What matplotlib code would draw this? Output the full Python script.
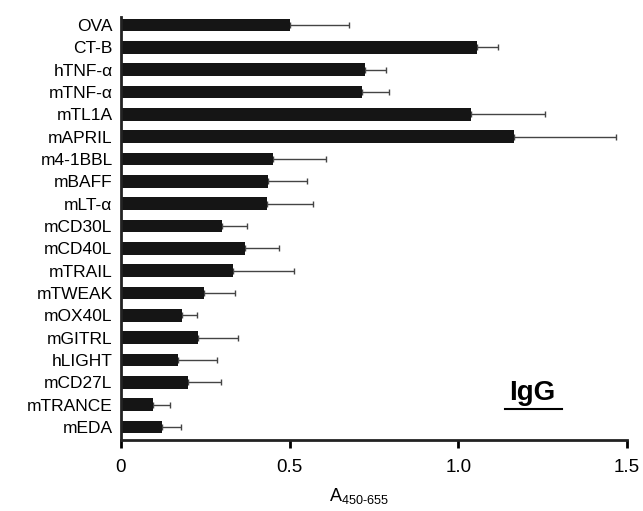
import matplotlib
matplotlib.use("Agg")
import matplotlib.pyplot as plt
import numpy as np

plt.rcParams['font.family'] = ['Liberation Sans', 'DejaVu Sans']

# data
labels = ['OVA', 'CT-B', 'hTNF-\u03b1', 'mTNF-\u03b1', 'mTL1A', 'mAPRIL', 'm4-1BBL',
          'mBAFF', 'mLT-\u03b1', 'mCD30L', 'mCD40L', 'mTRAIL', 'mTWEAK', 'mOX40L',
          'mGITRL', 'hLIGHT', 'mCD27L', 'mTRANCE', 'mEDA']
means = [0.50, 1.057, 0.725, 0.715, 1.037, 1.166, 0.452,
         0.435, 0.432, 0.301, 0.368, 0.333, 0.246, 0.181,
         0.228, 0.170, 0.200, 0.096, 0.123]
upper = [0.676, 1.119, 0.787, 0.796, 1.257, 1.469, 0.608,
         0.552, 0.570, 0.375, 0.468, 0.513, 0.339, 0.226,
         0.346, 0.284, 0.296, 0.147, 0.177]
errs = [u - m for u, m in zip(upper, means)]

fig = plt.figure(figsize=(6.43, 5.11), dpi=100)
ax = fig.add_axes([0.188, 0.139, 0.787, 0.8277])

ypos = np.arange(len(labels))
ax.barh(ypos, means, height=0.56, color='#151515', zorder=2)
ax.errorbar(means, ypos, xerr=[np.zeros(len(errs)), errs], fmt='none',
            ecolor='#444444', elinewidth=1.0, capsize=2.5, capthick=1.0, zorder=1)

ax.set_ylim(len(labels) - 0.42, -0.36)
ax.set_xlim(0, 1.5)
ax.set_yticks(ypos)
ax.set_yticklabels(labels, fontsize=12.5)
ax.set_xticks([0, 0.5, 1.0, 1.5])
ax.set_xticklabels(['0', '0.5', '1.0', '1.5'], fontsize=13.5)
ax.tick_params(axis='y', length=0, pad=6)
ax.tick_params(axis='x', length=6, width=2, pad=8, direction='out')

for side in ['top', 'right']:
    ax.spines[side].set_visible(False)
for side in ['left', 'bottom']:
    ax.spines[side].set_linewidth(2)
    ax.spines[side].set_color('#222222')

ax.set_xlabel('A$_{\\mathregular{450\u2010655}}$', fontsize=13, labelpad=4)
ax.xaxis.set_label_coords(0.47, -0.11)

ax.text(1.218, 16.47, 'IgG', fontsize=20, fontweight='bold', ha='center', va='center')
ax.plot([1.138, 1.307], [17.19, 17.19], color='black', lw=1.5, clip_on=False)

fig.savefig('out.png', dpi=100)
